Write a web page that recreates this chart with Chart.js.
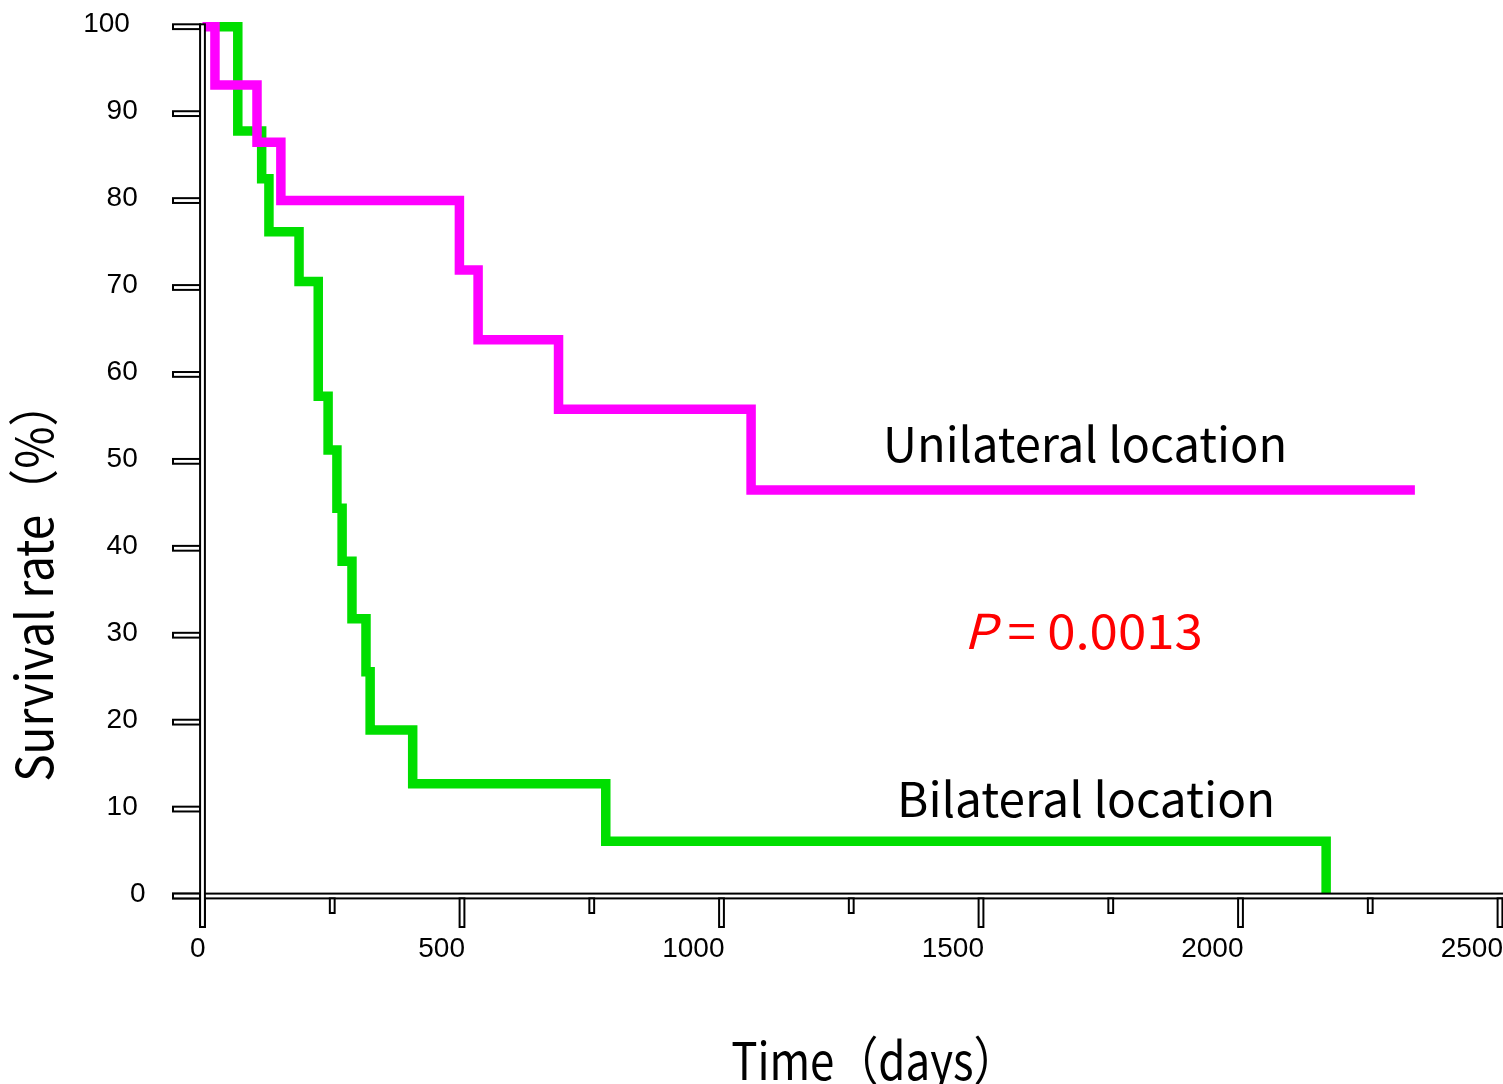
<!DOCTYPE html>
<html>
<head>
<meta charset="utf-8">
<script src="https://cdn.jsdelivr.net/npm/chart.js@4/dist/chart.umd.min.js"></script>
<style>
html,body{margin:0;padding:0;background:#fff;}
canvas{display:block;position:absolute;left:0;top:0;}
</style>
</head>
<body>
<canvas id="c" width="1503" height="1084"></canvas>
<script>
// ---- data ----
const uniDays = [0, 24, 105, 151, 495, 531, 686, 1057, 2336];
const uniSurv = [100, 93.3, 86.7, 80, 72, 64, 56, 46.7, 46.7];
const biDays  = [24, 68, 114, 128, 186, 223, 242, 259, 269, 288, 315, 323, 405, 777, 2165];
const biSurv  = [100, 88, 82.5, 76.4, 70.7, 57.5, 51.3, 44.6, 38.5, 31.9, 25.8, 19.1, 12.9, 6.3, 0];
const xTickVals  = [0, 500, 1000, 1500, 2000, 2500];
const xMinorVals = [250, 750, 1250, 1750, 2250];
const yTickVals  = [0, 10, 20, 30, 40, 50, 60, 70, 80, 90, 100];
const labelUni = 'Unilateral location';
const labelBi  = 'Bilateral location';
const pLabel   = ['P', ' = 0.0013'];
const xTitle   = 'Time（days）';
const yTitle   = 'Survival rate（%）';

const TEXT_FAMILY = '"Noto Sans CJK JP", "Noto Sans", sans-serif';
const TICK_FAMILY = '"Liberation Sans", Arial, sans-serif';
const CLEAR = 'rgba(0,0,0,0)';

function toPoints(xs, ys) { return xs.map((d, i) => ({ x: d, y: ys[i] })); }

const axesPlugin = {
  id: 'kmAxes',
  afterDatasetsDraw(chart) {
    const { ctx, scales: { x, y } } = chart;
    const x0 = x.getPixelForValue(0);
    const y0 = y.getPixelForValue(0);
    const yTop = y.getPixelForValue(100);
    const half = 3.4, inset = 2;
    const tickLeft = 172;
    const majorBottom = y0 + 32, minorBottom = y0 + 18;
    const rects = [];
    rects.push([tickLeft, y0 - half, chart.width - tickLeft + 10, 2 * half]);
    xTickVals.forEach(v => { const p = x.getPixelForValue(v); rects.push([p - half, y0 + half - inset, 2 * half, majorBottom - (y0 + half - inset)]); });
    xMinorVals.forEach(v => { const p = x.getPixelForValue(v); rects.push([p - half, y0 + half - inset, 2 * half, minorBottom - (y0 + half - inset)]); });
    yTickVals.forEach(v => { const p = y.getPixelForValue(v); rects.push([tickLeft, p - half, (x0 - half + inset) - tickLeft, 2 * half]); });
    rects.push([x0 - half, yTop - half, 2 * half, majorBottom - (yTop - half)]);
    ctx.save();
    rects.forEach(r => {
      ctx.fillStyle = '#000';
      ctx.fillRect(r[0], r[1], r[2], r[3]);
      ctx.fillStyle = '#fff';
      ctx.fillRect(r[0] + inset, r[1] + inset, r[2] - 2 * inset, r[3] - 2 * inset);
    });
    ctx.restore();
  }
};

function drawFitted(ctx, parts, o) {
  ctx.save();
  ctx.font = '100px ' + o.family;
  const capR = ctx.measureText('H').actualBoundingBoxAscent / 100;
  const size = o.cap / capR;
  const fonts = parts.map(p => (p.style || 'normal') + ' ' + size + 'px ' + o.family);
  const m = parts.map((p, i) => { ctx.font = fonts[i]; return ctx.measureText(p.t); });
  const left = m[0].actualBoundingBoxLeft;
  let total = 0;
  for (let i = 0; i < parts.length - 1; i++) total += m[i].width;
  const visible = left + total + m[m.length - 1].actualBoundingBoxRight;
  const sx = o.width / visible;
  ctx.translate(o.x, o.y);
  if (o.rotate) ctx.rotate(o.rotate);
  ctx.scale(sx, 1);
  ctx.fillStyle = o.color;
  ctx.textBaseline = 'alphabetic';
  ctx.textAlign = 'left';
  let cx = left;
  parts.forEach((p, i) => { ctx.font = fonts[i]; ctx.fillText(p.t, cx, 0); cx += m[i].width; });
  ctx.restore();
}

const textPlugin = {
  id: 'kmText',
  afterDraw(chart) {
    const ctx = chart.ctx;
    drawFitted(ctx, [{ t: labelUni }], { x: 887, y: 462, width: 397, cap: 35, color: '#000', family: TEXT_FAMILY });
    drawFitted(ctx, [{ t: labelBi }], { x: 901, y: 817, width: 371, cap: 35, color: '#000', family: TEXT_FAMILY });
    drawFitted(ctx, [{ t: pLabel[0], style: 'italic' }, { t: pLabel[1] }], { x: 968, y: 649, width: 232, cap: 35, color: '#ff0000', family: TEXT_FAMILY });
    drawFitted(ctx, [{ t: xTitle }], { x: 732, y: 1080, width: 255, cap: 38, color: '#000', family: TEXT_FAMILY });
    drawFitted(ctx, [{ t: yTitle }], { x: 53, y: 780, width: 368, cap: 37, color: '#000', family: TEXT_FAMILY, rotate: -Math.PI / 2 });
  }
};

const lineStyle = { stepped: 'before', pointRadius: 0, fill: false, borderWidth: 9.5, borderJoinStyle: 'miter', borderCapStyle: 'butt', clip: false, tension: 0 };

new Chart(document.getElementById('c'), {
  type: 'line',
  data: {
    datasets: [
      Object.assign({ label: labelUni, data: toPoints(uniDays, uniSurv), borderColor: '#ff00ff' }, lineStyle),
      Object.assign({ label: labelBi, data: toPoints(biDays, biSurv), borderColor: '#00de00' }, lineStyle)
    ]
  },
  options: {
    responsive: false,
    animation: false,
    devicePixelRatio: 1,
    layout: { padding: { left: 0, right: 3, top: 26.7, bottom: 0 } },
    plugins: { legend: { display: false }, tooltip: { enabled: false }, title: { display: false } },
    scales: {
      x: {
        type: 'linear', min: 0, max: 2500,
        afterBuildTicks: s => { s.ticks = xTickVals.map(v => ({ value: v })); },
        afterFit: s => { s.height = 188; },
        grid: { display: true, drawOnChartArea: false, drawTicks: true, tickLength: 36, color: CLEAR, tickColor: CLEAR },
        border: { display: false },
        ticks: { color: '#000', font: { family: TICK_FAMILY, size: 28 }, align: 'end', labelOffset: 3, padding: 0, maxRotation: 0, autoSkip: false,
                 callback: v => String(v) }
      },
      y: {
        type: 'linear', min: 0, max: 100,
        afterBuildTicks: s => { s.ticks = yTickVals.map(v => ({ value: v })); },
        afterFit: s => { s.width = 202.5; },
        grid: { display: true, drawOnChartArea: false, drawTicks: true, tickLength: 57, color: CLEAR, tickColor: CLEAR },
        border: { display: false },
        ticks: { color: '#000', font: { family: TICK_FAMILY, size: 28 }, padding: 0, labelOffset: -2, autoSkip: false,
                 callback: v => String(v) + ' '.repeat(String(v).length - 1) }
      }
    }
  },
  plugins: [axesPlugin, textPlugin]
});
</script>
</body>
</html>
